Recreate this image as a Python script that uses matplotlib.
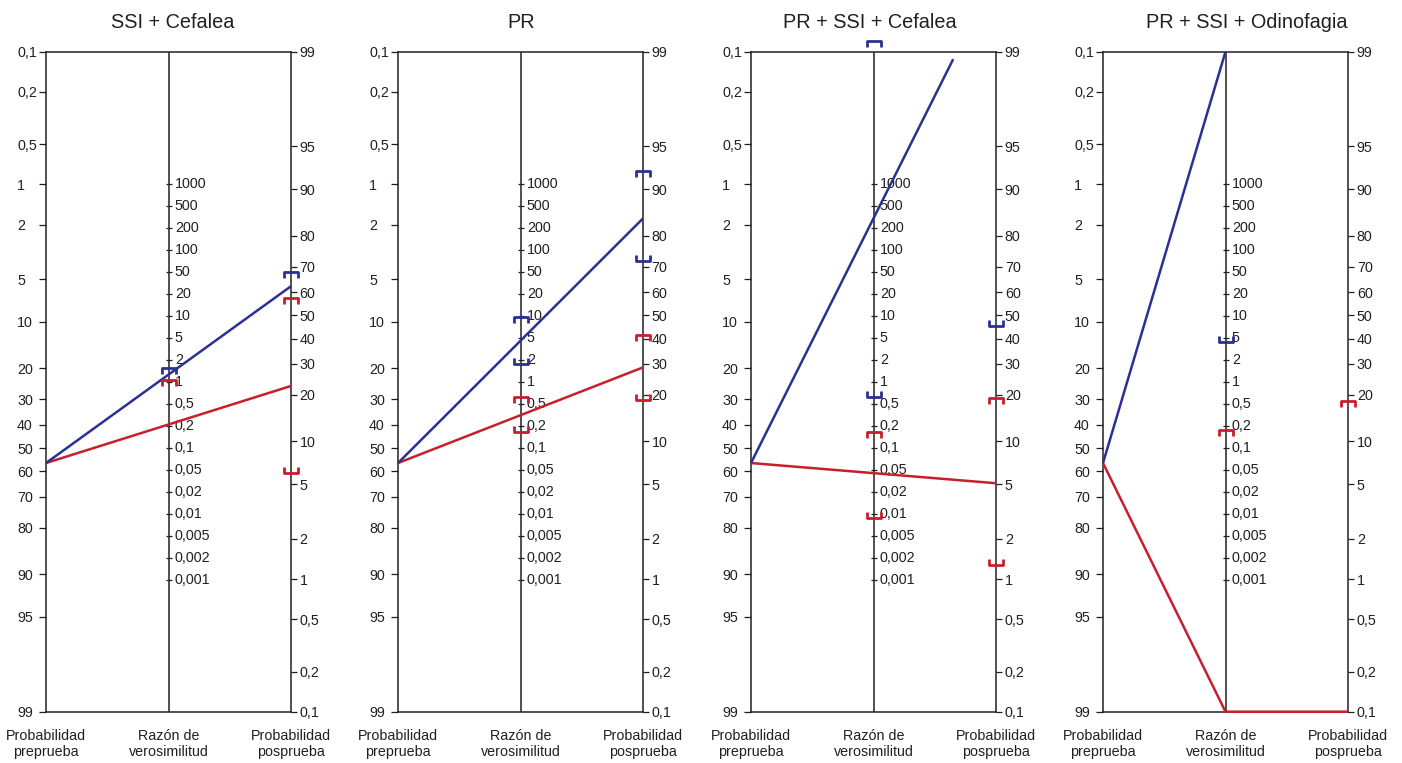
import numpy as np
import matplotlib.pyplot as plt
from matplotlib.path import Path

plt.rcParams['font.family'] = ['Liberation Sans', 'DejaVu Sans']

INK = '#231f20'
BLUE = '#2b3192'
RED = '#c81e2d'

# === Data ===
titles = ['SSI + Cefalea', 'PR', 'PR + SSI + Cefalea', 'PR + SSI + Odinofagia']
pre_prob = [56.5, 56.5, 56.5, 56.5]          # pre-test probability (%)
lr_pos = [1.28, 4.17, 297.0, np.inf]          # positive likelihood ratio
lr_neg = [0.225, 0.311, 0.0413, 0.0]          # negative likelihood ratio

# confidence-limit markers drawn on the nomograms
ci_panel = [0, 0, 0, 0, 0,
            1, 1, 1, 1, 1, 1, 1, 1,
            2, 2, 2, 2, 2, 2, 2,
            3, 3, 3]
ci_axis = ['lr', 'lr', 'post', 'post', 'post',
           'lr', 'lr', 'lr', 'lr', 'post', 'post', 'post', 'post',
           'lr', 'lr', 'lr', 'lr', 'post', 'post', 'post',
           'lr', 'lr', 'post']
ci_value = [1.45, 0.96, 66.9, 56.3, 6.3,
            8.6, 2.08, 0.52, 0.19, 92.2, 73.0, 40.1, 19.3,
            131000, 0.644, 0.156, 0.0097, 46.5, 18.4, 1.34,
            4.43, 0.166, 17.6]
ci_side = ['upper', 'upper', 'upper', 'upper', 'lower',
           'upper', 'lower', 'upper', 'lower', 'upper', 'lower', 'upper', 'lower',
           'upper', 'lower', 'upper', 'lower', 'lower', 'upper', 'lower',
           'lower', 'upper', 'upper']
ci_series = ['pos', 'neg', 'pos', 'neg', 'neg',
             'pos', 'pos', 'neg', 'neg', 'pos', 'pos', 'neg', 'neg',
             'pos', 'pos', 'neg', 'neg', 'pos', 'neg', 'neg',
             'pos', 'neg', 'neg']

pre_ticks = [0.1, 0.2, 0.5, 1, 2, 5, 10, 20, 30, 40, 50, 60, 70, 80, 90, 95, 99]
post_ticks = [99, 95, 90, 80, 70, 60, 50, 40, 30, 20, 10, 5, 2, 1, 0.5, 0.2, 0.1]
lr_ticks = [1000, 500, 200, 100, 50, 20, 10, 5, 2, 1, 0.5, 0.2, 0.1,
            0.05, 0.02, 0.01, 0.005, 0.002, 0.001]


def fmt(v):
    return ('%g' % v).replace('.', ',')


def logit(p):
    p = np.asarray(p, dtype=float) / 100.0
    return np.log(p / (1 - p))


# nomogram geometry: left = -logit(pre), right = logit(post) + D, middle = ln(LR)/2 + D/2
U_TOP = -logit(0.1)
D = U_TOP - logit(99)
U_BOT = logit(0.1) + D
U_CLIP = U_TOP - 0.13


def pre_y(p):
    return -logit(p)


def post_y(p):
    return logit(p) + D


def lr_y(lr):
    return np.log(lr) / 2 + D / 2


def lr_tick_y(lr):
    # the printed LR scale spaces 1-2-5 steps evenly within each decade
    e = np.floor(np.log10(lr) + 1e-9)
    m = round(lr / 10 ** e)
    step = {1: 0.0, 2: 1 / 3, 5: 2 / 3}[m]
    return (e + step) * np.log(10) / 2 + D / 2


def line_xy(pre, lr):
    yl = pre_y(pre)
    if np.isinf(lr):
        return [0, 1], [yl, U_TOP]
    if lr == 0:
        return [0, 1, 2], [yl, U_BOT, U_BOT]
    odds = pre / (100 - pre) * lr
    yr = post_y(100 * odds / (1 + odds))
    if yr > U_CLIP:
        xe = 2 * (U_CLIP - yl) / (yr - yl)
        return [0, xe], [yl, U_CLIP]
    return [0, 2], [yl, yr]


upper_mark = Path([(-0.5, -0.2), (-0.5, 0.2), (0.5, 0.2), (0.5, -0.2)],
                  [Path.MOVETO, Path.LINETO, Path.LINETO, Path.LINETO])
lower_mark = Path([(-0.5, 0.2), (-0.5, -0.2), (0.5, -0.2), (0.5, 0.2)],
                  [Path.MOVETO, Path.LINETO, Path.LINETO, Path.LINETO])

W, H = 1402, 763
fig = plt.figure(figsize=(W / 100, H / 100), dpi=100)

panel_left = [46, 398, 751, 1103]
title_x = [173, 521, 870, 1247]
panel_w = 245
box_top, box_bot = 51.7, 711.7

for i, title in enumerate(titles):
    ax = fig.add_axes([panel_left[i] / W, (H - box_bot) / H,
                       panel_w / W, (box_bot - box_top) / H])
    ax.set_xlim(0, 2)
    ax.set_ylim(U_BOT, U_TOP)
    for sp in ax.spines.values():
        sp.set_color(INK)
        sp.set_linewidth(1.1)
    ax.set_xticks([])

    # left axis: pre-test probability
    ax.set_yticks(pre_y(pre_ticks), [fmt(v) for v in pre_ticks])
    ax.tick_params(axis='y', direction='out', length=4.8, width=0.9,
                   color=INK, labelcolor=INK, labelsize=10.3, pad=16.0)
    for lab in ax.get_yticklabels():
        lab.set_horizontalalignment('left')

    # right axis: post-test probability
    ax2 = ax.twinx()
    ax2.set_ylim(U_BOT, U_TOP)
    ax2.set_yticks(post_y(post_ticks), [fmt(v) for v in post_ticks])
    ax2.tick_params(axis='y', direction='out', length=4.5, width=0.9,
                    color=INK, labelcolor=INK, labelsize=10.3, pad=1.8)
    for sp in ax2.spines.values():
        sp.set_visible(False)

    # middle axis: likelihood ratio
    ax.axvline(1, color=INK, lw=1.1)
    ys = [lr_tick_y(v) for v in lr_ticks]
    ax.plot(np.ones(len(lr_ticks)), ys, ls='none', marker='_',
            ms=5, mew=0.9, color=INK)
    for v, y in zip(lr_ticks, ys):
        ax.annotate(fmt(v), (1, y), xytext=(4.6, 0),
                    textcoords='offset points', ha='left', va='center',
                    fontsize=10.3, color=INK)

    # bottom labels
    for x, txt in zip([0, 1, 2], ['Probabilidad\npreprueba', 'Razón de\nverosimilitud',
                                  'Probabilidad\nposprueba']):
        ax.annotate(txt, (x, U_BOT), xytext=(0, -12.5), textcoords='offset points',
                    ha='center', va='top', fontsize=10.3, color=INK,
                    linespacing=1.22, annotation_clip=False)

    # lines
    for lr, col in [(lr_neg[i], RED), (lr_pos[i], BLUE)]:
        xs, yv = line_xy(pre_prob[i], lr)
        ax2.plot(xs, yv, color=col, lw=1.8, clip_on=False, zorder=4,
                 solid_capstyle='butt')

    # confidence markers
    for p, a, v, s, ser in zip(ci_panel, ci_axis, ci_value, ci_side, ci_series):
        if p != i:
            continue
        if a == 'lr':
            x, y = 1, lr_y(v)
        else:
            x, y = 2, post_y(v)
        y = min(y, U_TOP + 0.14)
        ax2.plot([x], [y], ls='none', marker=upper_mark if s == 'upper' else lower_mark,
                 ms=10.5, mew=2.0, mfc='none',
                 mec=BLUE if ser == 'pos' else RED, clip_on=False, zorder=5)

    fig.text(title_x[i] / W, 1 - 22 / H, title,
             ha='center', va='center', fontsize=14.3, color=INK)

fig.savefig('out.png', dpi=100)
